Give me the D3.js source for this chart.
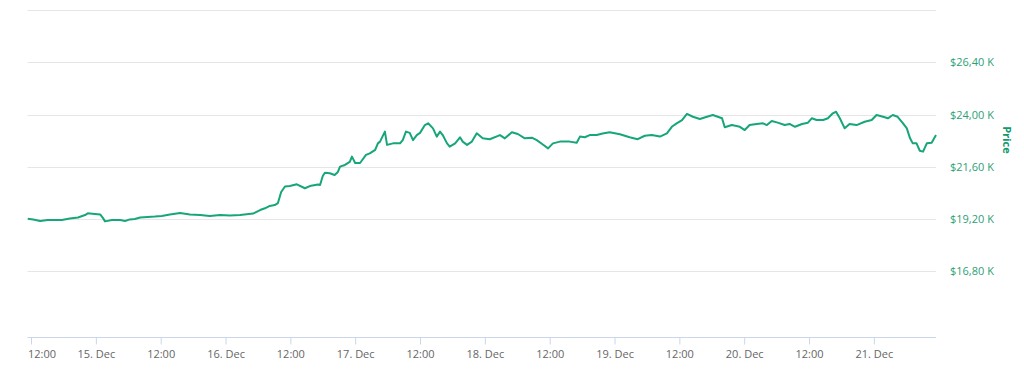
<!DOCTYPE html>
<html>
<head>
<meta charset="utf-8">
<script src="https://cdn.jsdelivr.net/npm/d3@7"></script>
<style>
  html, body { margin: 0; padding: 0; background: #ffffff; }
  svg { display: block; font-family: "Open Sans", "DejaVu Sans", sans-serif; }
</style>
</head>
<body>
<svg id="chart" width="1024" height="370"></svg>
<script>
// ---- Data (hours since 2020-12-14 00:00 UTC, BTC price in USD) ----
const startDate = "2020-12-14T00:00:00Z";
const hours = [
  11.4, 12.4, 13.7, 15.1, 16.4, 17.7, 19.2, 20.7, 22.0, 22.5,
  23.8, 24.8, 25.3, 25.7, 27.0, 28.5, 29.4, 30.3, 31.2, 32.2,
  33.6, 34.9, 36.2, 37.7, 39.6, 41.4, 43.3, 45.1, 47.0, 48.8,
  50.7, 53.1, 54.4, 55.3, 56.2, 57.1, 57.7, 58.3, 59.0, 59.9,
  61.2, 62.7, 63.6, 65.1, 65.5, 66.0, 66.4, 67.3, 68.2, 68.8,
  69.2, 70.1, 71.0, 71.4, 72.0, 72.9, 74.0, 74.7, 75.7, 76.2,
  76.6, 77.5, 77.9, 79.0, 80.3, 80.8, 81.4, 82.1, 82.7, 83.4,
  84.0, 84.9, 85.5, 86.4, 87.1, 87.7, 88.2, 89.0, 89.5, 90.5,
  91.4, 91.9, 92.7, 93.6, 94.5, 95.6, 96.9, 98.8, 99.7, 101.0,
  102.1, 103.4, 104.7, 105.6, 106.6, 107.7, 108.6, 109.9, 111.7, 113.0,
  113.6, 114.5, 115.4, 116.7, 117.8, 119.1, 121.0, 122.8, 124.3, 125.6,
  126.9, 128.4, 129.7, 130.6, 131.5, 132.5, 133.4, 134.5, 135.8, 137.1,
  138.2, 139.1, 139.9, 140.4, 141.7, 143.2, 144.1, 145.0, 146.3, 147.5,
  148.2, 149.1, 150.2, 151.5, 152.4, 153.4, 154.7, 155.8, 156.5, 157.4,
  158.6, 159.5, 160.4, 161.0, 161.7, 162.6, 163.5, 164.8, 166.3, 167.6,
  168.5, 169.7, 170.6, 171.5, 172.4, 173.4, 174.1, 174.7, 175.2, 175.9,
  176.5, 177.1, 177.8, 178.7, 179.5
];
const prices = [
  19220, 19190, 19120, 19160, 19160, 19160, 19230, 19280, 19390, 19470,
  19440, 19420, 19260, 19100, 19160, 19160, 19120, 19190, 19210, 19280,
  19300, 19320, 19350, 19420, 19480, 19420, 19390, 19350, 19390, 19370,
  19390, 19460, 19620, 19700, 19810, 19850, 19940, 20450, 20700, 20720,
  20800, 20620, 20720, 20790, 20770, 21180, 21330, 21310, 21230, 21370,
  21610, 21690, 21830, 22070, 21780, 21780, 22150, 22220, 22380, 22680,
  22760, 23220, 22610, 22680, 22680, 22830, 23220, 23160, 22830, 23060,
  23160, 23520, 23600, 23370, 22990, 23220, 23060, 22680, 22530, 22680,
  22960, 22760, 22610, 22760, 23140, 22910, 22870, 23060, 22910, 23190,
  23110, 22910, 22940, 22830, 22650, 22450, 22680, 22760, 22760, 22710,
  22990, 22960, 23060, 23060, 23130, 23190, 23100, 22960, 22870, 23030,
  23060, 22990, 23140, 23440, 23600, 23750, 24030, 23900, 23800, 23900,
  23980, 23900, 23830, 23420, 23520, 23440, 23290, 23520, 23570, 23600,
  23520, 23710, 23630, 23520, 23570, 23440, 23570, 23630, 23830, 23750,
  23750, 23830, 24060, 24130, 23830, 23370, 23570, 23520, 23670, 23750,
  23980, 23900, 23830, 23980, 23900, 23600, 23370, 22910, 22680, 22680,
  22340, 22300, 22680, 22710, 23060
];
const yTicks = [16800, 19200, 21600, 24000, 26400, 28800];
const yDomain = [13780, 28800];
const xDomainHours = [11.35, 179.5];
const axisTitle = "Price";

// ---- Build ----
(function () {
const base = new Date(startDate).getTime();
const toDate = h => new Date(base + h * 3600 * 1000);
const data = hours.map((h, i) => ({ t: toDate(h), v: prices[i] }));

const plotLeft = 27.5, plotRight = 936, plotTop = 10, plotBottom = 337.3;
const svg = d3.select("#chart");

const x = d3.scaleUtc().domain(xDomainHours.map(toDate)).range([plotLeft, plotRight]);
const y = d3.scaleLinear().domain(yDomain).range([plotBottom, plotTop]);

// gridlines
svg.append("g").selectAll("line").data(yTicks).join("line")
  .attr("x1", plotLeft).attr("x2", plotRight)
  .attr("y1", d => Math.round(y(d)) + 0.5).attr("y2", d => Math.round(y(d)) + 0.5)
  .attr("stroke", "#e6e6e6").attr("stroke-width", 1);

// y labels (top one hidden)
svg.append("g").selectAll("text").data(yTicks.slice(0, -1)).join("text")
  .attr("x", 950).attr("y", d => y(d) + 4)
  .attr("fill", "#2c9f76").attr("font-size", "11px")
  .text(d => "$" + (d / 1000).toFixed(2).replace(".", ",") + " K");

// axis title
svg.append("text")
  .attr("transform", "translate(1003,140) rotate(90)")
  .attr("text-anchor", "middle")
  .attr("fill", "#0f9b6e").attr("font-size", "11px").attr("font-weight", "bold")
  .text(axisTitle);

// x axis
const xTicks = x.ticks(d3.utcHour.every(12));
const fmt = d => d.getUTCHours() === 0 ? d3.utcFormat("%-d. %b")(d) : d3.utcFormat("%H:%M")(d);
const xAxis = d3.axisBottom(x).tickValues(xTicks).tickFormat(fmt).tickSize(7).tickPadding(6);
const gx = svg.append("g").attr("transform", `translate(0,${Math.round(plotBottom) + 0.5})`).call(xAxis);
gx.select(".domain").attr("stroke", "#ccd6eb").attr("d", `M${plotLeft},0H${plotRight}`);
gx.selectAll(".tick line").attr("stroke", "#ccd6eb");
gx.selectAll(".tick text").attr("fill", "#666666").attr("font-size", "11px")
  .attr("font-family", "\"Open Sans\", \"DejaVu Sans\", sans-serif");
gx.selectAll(".tick").filter((d, i) => i === 0).select("text")
  .attr("text-anchor", "start").attr("x", plotLeft - x(xTicks[0]));

// line
const line = d3.line().x(d => x(d.t)).y(d => y(d.v)).curve(d3.curveLinear);
svg.append("path").datum(data)
  .attr("d", line)
  .attr("fill", "none")
  .attr("stroke", "#17a57a")
  .attr("stroke-width", 2)
  .attr("stroke-linejoin", "round");
})();
</script>
</body>
</html>
